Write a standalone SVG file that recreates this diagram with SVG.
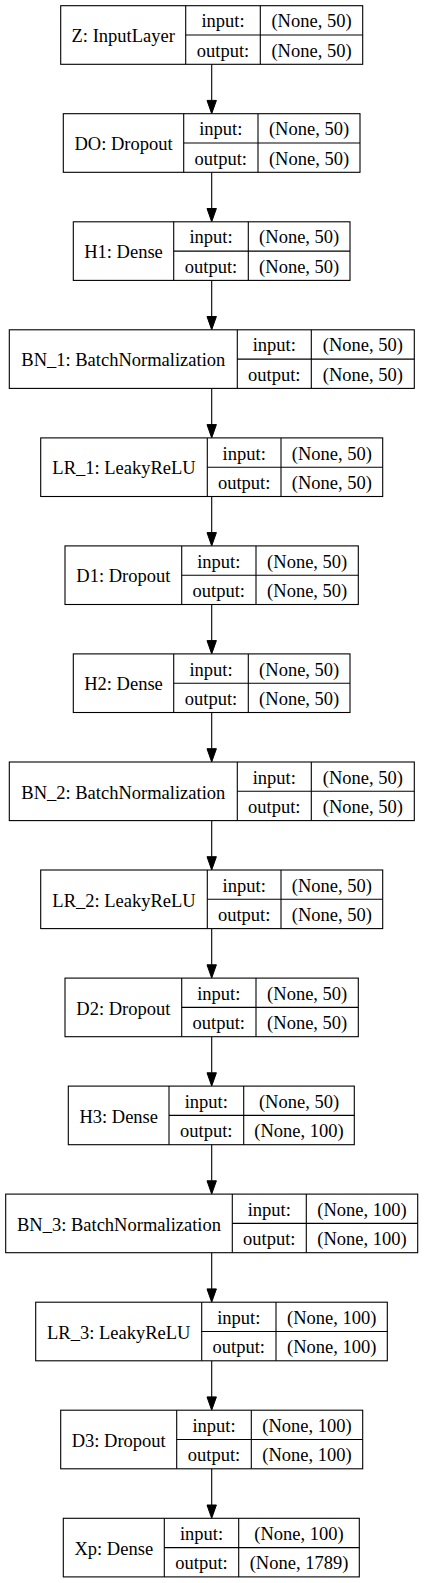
<svg xmlns="http://www.w3.org/2000/svg" width="424" height="1583" viewBox="0 0 424 1583">
<style>
rect{fill:#fff;stroke:#000;stroke-width:1.1}
line{stroke:#000;stroke-width:1.1}
text{font-family:"Liberation Serif","Times New Roman",serif;font-size:18.5px;fill:#000;text-anchor:middle}
.e line{stroke:#000;stroke-width:1.1}
.e polygon{fill:#000;stroke:#000;stroke-width:1}
</style>
<rect x="0" y="0" width="424" height="1583" style="fill:#fff;stroke:none"/>
<g class="e" id="edges">
<line x1="211.7" y1="64.3" x2="211.7" y2="100.4"/><polygon points="207,100.4 216.4,100.4 211.7,113.7"/>
<line x1="211.7" y1="172.3" x2="211.7" y2="208.5"/><polygon points="207,208.5 216.4,208.5 211.7,221.8"/>
<line x1="211.7" y1="280.4" x2="211.7" y2="316.5"/><polygon points="207,316.5 216.4,316.5 211.7,329.8"/>
<line x1="211.7" y1="388.4" x2="211.7" y2="424.6"/><polygon points="207,424.6 216.4,424.6 211.7,437.9"/>
<line x1="211.7" y1="496.5" x2="211.7" y2="532.6"/><polygon points="207,532.6 216.4,532.6 211.7,545.9"/>
<line x1="211.7" y1="604.5" x2="211.7" y2="640.6"/><polygon points="207,640.6 216.4,640.6 211.7,653.9"/>
<line x1="211.7" y1="712.5" x2="211.7" y2="748.7"/><polygon points="207,748.7 216.4,748.7 211.7,762"/>
<line x1="211.7" y1="820.6" x2="211.7" y2="856.7"/><polygon points="207,856.7 216.4,856.7 211.7,870"/>
<line x1="211.7" y1="928.6" x2="211.7" y2="964.8"/><polygon points="207,964.8 216.4,964.8 211.7,978.1"/>
<line x1="211.7" y1="1036.7" x2="211.7" y2="1072.8"/><polygon points="207,1072.8 216.4,1072.8 211.7,1086.1"/>
<line x1="211.7" y1="1144.7" x2="211.7" y2="1180.8"/><polygon points="207,1180.8 216.4,1180.8 211.7,1194.1"/>
<line x1="211.7" y1="1252.7" x2="211.7" y2="1288.9"/><polygon points="207,1288.9 216.4,1288.9 211.7,1302.2"/>
<line x1="211.7" y1="1360.8" x2="211.7" y2="1396.9"/><polygon points="207,1396.9 216.4,1396.9 211.7,1410.2"/>
<line x1="211.7" y1="1468.8" x2="211.7" y2="1505"/><polygon points="207,1505 216.4,1505 211.7,1518.3"/>
</g>
<g id="Z" transform="translate(0,5.7)">
<rect x="60.7" y="0" width="302" height="58.6"/><line x1="185.7" y1="0" x2="185.7" y2="58.6"/><line x1="260.3" y1="0" x2="260.3" y2="58.6"/><line x1="185.7" y1="29.3" x2="362.7" y2="29.3"/>
<text x="123.2" y="36.5">Z: InputLayer</text><text x="223" y="21.7">input:</text><text x="223" y="51">output:</text><text x="311.5" y="21.7">(None, 50)</text><text x="311.5" y="51">(None, 50)</text>
</g>
<g id="DO" transform="translate(0,113.7)">
<rect x="63.3" y="0" width="296.7" height="58.6"/><line x1="183.7" y1="0" x2="183.7" y2="58.6"/><line x1="258" y1="0" x2="258" y2="58.6"/><line x1="183.7" y1="29.3" x2="360" y2="29.3"/>
<text x="123.5" y="36.5">DO: Dropout</text><text x="220.8" y="21.7">input:</text><text x="220.8" y="51">output:</text><text x="309" y="21.7">(None, 50)</text><text x="309" y="51">(None, 50)</text>
</g>
<g id="H1" transform="translate(0,221.8)">
<rect x="73.3" y="0" width="276.7" height="58.6"/><line x1="173.7" y1="0" x2="173.7" y2="58.6"/><line x1="248.3" y1="0" x2="248.3" y2="58.6"/><line x1="173.7" y1="29.3" x2="350" y2="29.3"/>
<text x="123.5" y="36.5">H1: Dense</text><text x="211" y="21.7">input:</text><text x="211" y="51">output:</text><text x="299.2" y="21.7">(None, 50)</text><text x="299.2" y="51">(None, 50)</text>
</g>
<g id="BN_1" transform="translate(0,329.8)">
<rect x="9.3" y="0" width="405" height="58.6"/><line x1="237.3" y1="0" x2="237.3" y2="58.6"/><line x1="311.3" y1="0" x2="311.3" y2="58.6"/><line x1="237.3" y1="29.3" x2="414.3" y2="29.3"/>
<text x="123.3" y="36.5">BN_1: BatchNormalization</text><text x="274.3" y="21.7">input:</text><text x="274.3" y="51">output:</text><text x="362.8" y="21.7">(None, 50)</text><text x="362.8" y="51">(None, 50)</text>
</g>
<g id="LR_1" transform="translate(0,437.9)">
<rect x="40.7" y="0" width="342" height="58.6"/><line x1="207.3" y1="0" x2="207.3" y2="58.6"/><line x1="281" y1="0" x2="281" y2="58.6"/><line x1="207.3" y1="29.3" x2="382.7" y2="29.3"/>
<text x="124" y="36.5">LR_1: LeakyReLU</text><text x="244.2" y="21.7">input:</text><text x="244.2" y="51">output:</text><text x="331.8" y="21.7">(None, 50)</text><text x="331.8" y="51">(None, 50)</text>
</g>
<g id="D1" transform="translate(0,545.9)">
<rect x="65" y="0" width="293.3" height="58.6"/><line x1="181.7" y1="0" x2="181.7" y2="58.6"/><line x1="256" y1="0" x2="256" y2="58.6"/><line x1="181.7" y1="29.3" x2="358.3" y2="29.3"/>
<text x="123.3" y="36.5">D1: Dropout</text><text x="218.8" y="21.7">input:</text><text x="218.8" y="51">output:</text><text x="307.2" y="21.7">(None, 50)</text><text x="307.2" y="51">(None, 50)</text>
</g>
<g id="H2" transform="translate(0,653.9)">
<rect x="73.3" y="0" width="276.7" height="58.6"/><line x1="173.7" y1="0" x2="173.7" y2="58.6"/><line x1="248.3" y1="0" x2="248.3" y2="58.6"/><line x1="173.7" y1="29.3" x2="350" y2="29.3"/>
<text x="123.5" y="36.5">H2: Dense</text><text x="211" y="21.7">input:</text><text x="211" y="51">output:</text><text x="299.2" y="21.7">(None, 50)</text><text x="299.2" y="51">(None, 50)</text>
</g>
<g id="BN_2" transform="translate(0,762)">
<rect x="9.3" y="0" width="405" height="58.6"/><line x1="237.3" y1="0" x2="237.3" y2="58.6"/><line x1="311.3" y1="0" x2="311.3" y2="58.6"/><line x1="237.3" y1="29.3" x2="414.3" y2="29.3"/>
<text x="123.3" y="36.5">BN_2: BatchNormalization</text><text x="274.3" y="21.7">input:</text><text x="274.3" y="51">output:</text><text x="362.8" y="21.7">(None, 50)</text><text x="362.8" y="51">(None, 50)</text>
</g>
<g id="LR_2" transform="translate(0,870)">
<rect x="40.7" y="0" width="342" height="58.6"/><line x1="207.3" y1="0" x2="207.3" y2="58.6"/><line x1="281" y1="0" x2="281" y2="58.6"/><line x1="207.3" y1="29.3" x2="382.7" y2="29.3"/>
<text x="124" y="36.5">LR_2: LeakyReLU</text><text x="244.2" y="21.7">input:</text><text x="244.2" y="51">output:</text><text x="331.8" y="21.7">(None, 50)</text><text x="331.8" y="51">(None, 50)</text>
</g>
<g id="D2" transform="translate(0,978.1)">
<rect x="65" y="0" width="293.3" height="58.6"/><line x1="181.7" y1="0" x2="181.7" y2="58.6"/><line x1="256" y1="0" x2="256" y2="58.6"/><line x1="181.7" y1="29.3" x2="358.3" y2="29.3"/>
<text x="123.3" y="36.5">D2: Dropout</text><text x="218.8" y="21.7">input:</text><text x="218.8" y="51">output:</text><text x="307.2" y="21.7">(None, 50)</text><text x="307.2" y="51">(None, 50)</text>
</g>
<g id="H3" transform="translate(0,1086.1)">
<rect x="68.3" y="0" width="286" height="58.6"/><line x1="169" y1="0" x2="169" y2="58.6"/><line x1="243.7" y1="0" x2="243.7" y2="58.6"/><line x1="169" y1="29.3" x2="354.3" y2="29.3"/>
<text x="118.7" y="36.5">H3: Dense</text><text x="206.3" y="21.7">input:</text><text x="206.3" y="51">output:</text><text x="299" y="21.7">(None, 50)</text><text x="299" y="51">(None, 100)</text>
</g>
<g id="BN_3" transform="translate(0,1194.1)">
<rect x="5.7" y="0" width="412" height="58.6"/><line x1="232.3" y1="0" x2="232.3" y2="58.6"/><line x1="306.3" y1="0" x2="306.3" y2="58.6"/><line x1="232.3" y1="29.3" x2="417.7" y2="29.3"/>
<text x="119" y="36.5">BN_3: BatchNormalization</text><text x="269.3" y="21.7">input:</text><text x="269.3" y="51">output:</text><text x="362" y="21.7">(None, 100)</text><text x="362" y="51">(None, 100)</text>
</g>
<g id="LR_3" transform="translate(0,1302.2)">
<rect x="35.7" y="0" width="351.6" height="58.6"/><line x1="201.7" y1="0" x2="201.7" y2="58.6"/><line x1="276" y1="0" x2="276" y2="58.6"/><line x1="201.7" y1="29.3" x2="387.3" y2="29.3"/>
<text x="118.7" y="36.5">LR_3: LeakyReLU</text><text x="238.8" y="21.7">input:</text><text x="238.8" y="51">output:</text><text x="331.7" y="21.7">(None, 100)</text><text x="331.7" y="51">(None, 100)</text>
</g>
<g id="D3" transform="translate(0,1410.2)">
<rect x="60.7" y="0" width="302" height="58.6"/><line x1="176.7" y1="0" x2="176.7" y2="58.6"/><line x1="251.3" y1="0" x2="251.3" y2="58.6"/><line x1="176.7" y1="29.3" x2="362.7" y2="29.3"/>
<text x="118.7" y="36.5">D3: Dropout</text><text x="214" y="21.7">input:</text><text x="214" y="51">output:</text><text x="307" y="21.7">(None, 100)</text><text x="307" y="51">(None, 100)</text>
</g>
<g id="Xp" transform="translate(0,1518.3)">
<rect x="63.3" y="0" width="296" height="58.6"/><line x1="164.3" y1="0" x2="164.3" y2="58.6"/><line x1="238.7" y1="0" x2="238.7" y2="58.6"/><line x1="164.3" y1="29.3" x2="359.3" y2="29.3"/>
<text x="113.8" y="36.5">Xp: Dense</text><text x="201.5" y="21.7">input:</text><text x="201.5" y="51">output:</text><text x="299" y="21.7">(None, 100)</text><text x="299" y="51">(None, 1789)</text>
</g>
</svg>
